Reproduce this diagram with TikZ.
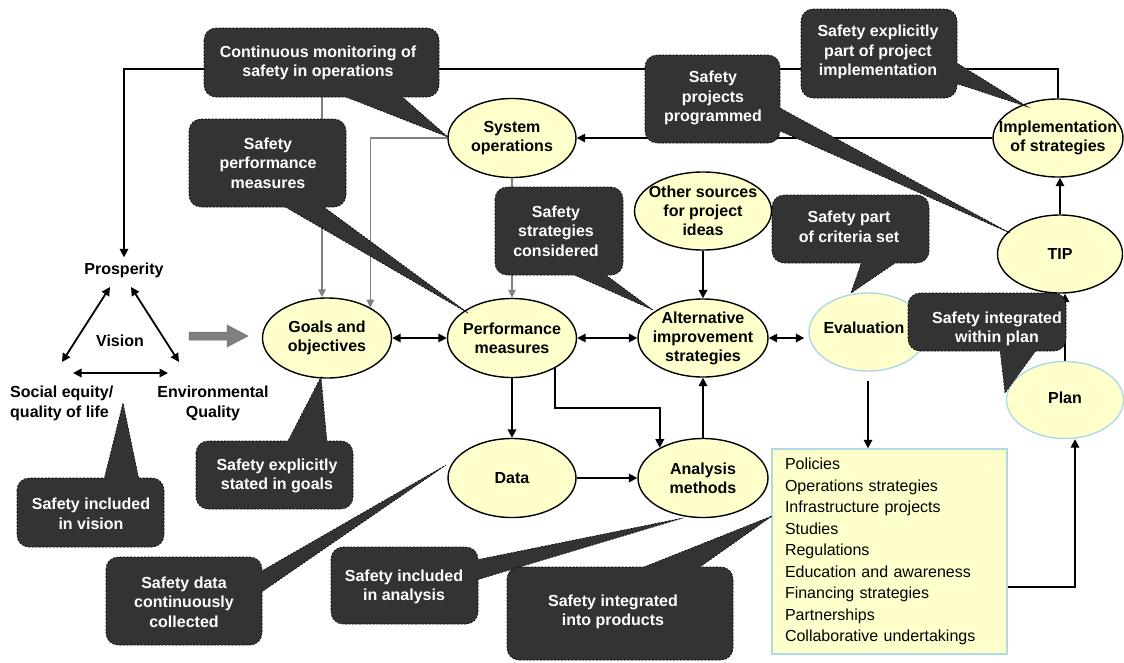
\documentclass[tikz,border=0pt]{standalone}
\usepackage{fontspec}
\setmainfont{Liberation Sans}
\usetikzlibrary{arrows.meta,shapes.geometric,calc}
\definecolor{yfill}{RGB}{255,255,204}
\definecolor{lblue}{RGB}{175,218,228}
\definecolor{cfill}{RGB}{51,51,51}
\definecolor{gline}{RGB}{128,128,128}
\pgfdeclarelayer{bgwhite}\pgfdeclarelayer{bg}\pgfdeclarelayer{fg}\pgfsetlayers{bgwhite,bg,main,fg}
% name, corner1, corner2, text pos, text, base1, base2, tip
\newcommand{\mycallout}[8]{%
  \path[calltail] #6 -- #8 -- #7 -- cycle;
  \path[callbox] #2 rectangle #3;
  \fill[cfill] #6 -- ($#6!16pt!#8$) -- ($#7!16pt!#8$) -- #7 -- cycle;
  \node[calltext] (#1) at #4 {#5};
}
\begin{document}
\begin{tikzpicture}[x=1pt,y=-1pt,
  ell/.style={ellipse, draw=black, line width=1.4pt, fill=yfill, inner sep=0pt},
  ellb/.style={ellipse, draw=lblue, line width=1.4pt, fill=yfill, inner sep=0pt},
  etext/.style={align=center, inner sep=0pt, font=\fontsize{16}{19}\selectfont\bfseries},
  vtext/.style={inner sep=2pt, font=\fontsize{16}{20}\selectfont\bfseries},
  callbox/.style={rounded corners=12pt, fill=cfill, draw=black, line width=0.6pt, dash pattern=on 2pt off 1.5pt},
  calltail/.style={fill=cfill, draw=black, line width=0.6pt, dash pattern=on 2pt off 1.5pt},
  calltext/.style={text=white, align=center, inner sep=0pt, font=\fontsize{16}{19.5}\selectfont\bfseries},
  arr/.style={-{Triangle[length=8.5pt,width=8.5pt]}, line width=1.8pt},
  dbl/.style={{Triangle[length=8.5pt,width=8.5pt]}-{Triangle[length=8.5pt,width=8.5pt]}, line width=1.8pt},
  garr/.style={-{Triangle[length=8pt,width=7.5pt]}, line width=1.4pt, draw=gline, color=gline},
  listbox/.style={rectangle, draw=lblue, line width=1.4pt, fill=yfill, minimum width=235pt, minimum height=205pt, text width=209pt, inner xsep=13pt, inner ysep=0pt, align=left, font=\fontsize{16}{21.5}\selectfont}
]
\useasboundingbox (0,0) rectangle (1124,662);
\begin{pgfonlayer}{bgwhite}
\fill[white] (0,0) rectangle (1124,662);
\end{pgfonlayer}

% ---------- ellipses ----------
\node[ell, minimum width=128pt, minimum height=79pt] (sysop) at (512,138) {};
\node[etext] (sysop-t) at (sysop) {System\\operations};
\node[ell, minimum width=130pt, minimum height=78pt] (impl) at (1058,138) {};
\node[etext] (impl-t) at (impl) {Implementation\\of strategies};
\node[ell, minimum width=137pt, minimum height=78pt] (other) at (703,211) {};
\node[etext] (other-t) at (other) {Other sources\\for project\\ideas};
\node[ell, minimum width=125pt, minimum height=78pt] (tip) at (1060,254) {};
\node[etext] (tip-t) at (tip) {TIP};
\node[ell, minimum width=129pt, minimum height=80pt] (goals) at (327,338) {};
\node[etext] (goals-t) at (goals) {Goals and\\objectives};
\node[ell, minimum width=129pt, minimum height=79pt] (perf) at (512,338) {};
\node[etext] (perf-t) at (perf) {Performance\\measures};
\node[ell, minimum width=130pt, minimum height=78pt] (alt) at (703,338) {};
\node[etext] (alt-t) at (alt) {Alternative\\improvement\\strategies};
\node[ellb, minimum width=118pt, minimum height=78pt] (eval) at (868,332) {};
\node[etext] (eval-t) at (864,328) {Evaluation};
\node[ellb, minimum width=117pt, minimum height=77pt] (plan) at (1065,400) {};
\node[etext] (plan-t) at (1065,398) {Plan};
\node[ell, minimum width=128pt, minimum height=79pt] (data) at (512,478) {};
\node[etext] (data-t) at (data) {Data};
\node[ell, minimum width=130pt, minimum height=79pt] (anal) at (703,478) {};
\node[etext] (anal-t) at (anal) {Analysis\\methods};

% ---------- list box ----------
\node[listbox] (list) at (889.5,551.5) {Policies\\Operations strategies\\Infrastructure projects\\Studies\\Regulations\\Education and awareness\\Financing strategies\\Partnerships\\Collaborative undertakings};

% ---------- vision ----------
\node[vtext] (prosp) at (124,270) {Prosperity};
\node[vtext] (vision) at (120,341) {Vision};
\node[vtext, anchor=west, align=left, inner sep=0pt] (social) at (10,403) {Social equity/\\quality of life};
\node[vtext, align=center, inner sep=0pt] (env) at (213,403) {Environmental\\Quality};
\coordinate (t1) at (110,287);
\coordinate (t2) at (62,362);
\coordinate (t3) at (131,287);
\coordinate (t4) at (179,362);
\coordinate (t5) at (73,373);
\coordinate (t6) at (168,373);
\draw[dbl] (t1) -- (t2);
\draw[dbl] (t3) -- (t4);
\draw[dbl] (t5) -- (t6);
\filldraw[fill=gline, draw=gline!85!black, line width=0.5pt] (189,332) -- (227,332) -- (227,325) -- (248,336) -- (227,347) -- (227,340) -- (189,340) -- cycle;

% ---------- connectors ----------
\begin{pgfonlayer}{bg}
\coordinate (topc) at (600,69);
\draw[arr, shorten >=3pt] (impl.north) |- (topc) -| (prosp.north);
\coordinate (tapA) at (322,69);
\draw[garr] (tapA) -- (tapA |- goals.north);
\draw[garr] (sysop.west) -| (goals.35);
\draw[garr] (sysop.south) -- (perf.north);
\draw[arr] (impl.west) -- (sysop.east);
\draw[arr] (tip.north) -- (tip.north |- impl.south);
\draw[arr] (plan.north) -- (plan.north |- tip.south);
\draw[dbl] (goals.east) -- (perf.west);
\draw[dbl] (perf.east) -- (alt.west);
\draw[dbl, shorten >=4pt] (alt.east) -- (alt.east -| eval.west);
\draw[arr] (other.south) -- (alt.north);
\draw[arr] (perf.south) -- (data.north);
\coordinate (bend) at (610,408);
\draw[arr] (perf.-35) |- (bend) -| (anal.145);
\draw[arr] (data.east) -- (anal.west);
\draw[arr] (anal.north) -- (alt.south);
\draw[arr] ([yshift=-9pt]eval.south) -- (eval.south |- list.north);
\draw[arr] ($(list.south east)+(0,-68)$) -| ($(plan.south)+(10,0)$);
\end{pgfonlayer}

% ---------- callouts ----------
\begin{pgfonlayer}{fg}
\mycallout{cA}{(204,28)}{(439,97)}{(318,63)}{Continuous monitoring of\\safety in operations}{(341,95)}{(400,95)}{(448,137)}
\mycallout{cB}{(189,119)}{(346,207)}{(268,163)}{Safety\\performance\\measures}{(282,205)}{(321,205)}{(468,313)}
\mycallout{cC}{(495,187)}{(623,275)}{(556,231)}{Safety\\strategies\\considered}{(570,273)}{(603,273)}{(653,310)}
\mycallout{cD}{(645,55)}{(780,143)}{(713,98)}{Safety\\projects\\programmed}{(778,107)}{(778,130)}{(1010,233)}
\mycallout{cE}{(801,9)}{(957,98)}{(878,52)}{Safety explicitly\\part of project\\implementation}{(955,62)}{(955,83)}{(1028,107)}
\mycallout{cF}{(772,195)}{(929,263)}{(849,227)}{Safety part\\of criteria set}{(862,261)}{(898,261)}{(851,293)}
\mycallout{cG}{(908,293)}{(1066,351)}{(997,329)}{Safety integrated\\within plan}{(1000,349)}{(1037,349)}{(1005,393)}
\mycallout{cH}{(196,441)}{(353,509)}{(277,476)}{Safety explicitly\\stated in goals}{(287,443)}{(327,443)}{(321,377)}
\mycallout{cI}{(17,478)}{(164,547)}{(91,514)}{Safety included\\in vision}{(104,480)}{(139,480)}{(123,403)}
\mycallout{cJ}{(106,557)}{(262,645)}{(184,602)}{Safety data\\continuously\\collected}{(260,572)}{(260,593)}{(446,465)}
\mycallout{cK}{(331,547)}{(478,624)}{(404,587)}{Safety included\\in analysis}{(476,560)}{(476,580)}{(683,518)}
\mycallout{cL}{(507,567)}{(733,660)}{(613,612)}{Safety integrated\\into products}{(639,569)}{(697,569)}{(772,516)}
\end{pgfonlayer}
\end{tikzpicture}
\end{document}
